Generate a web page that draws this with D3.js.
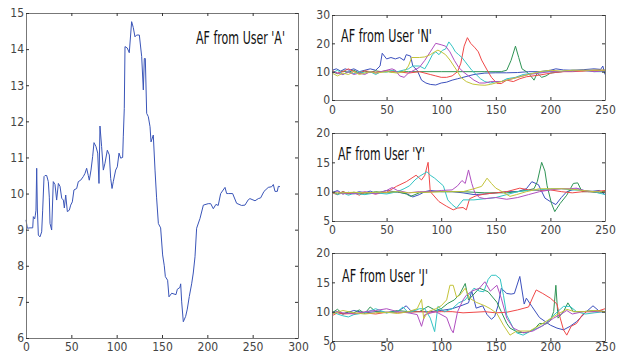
<!DOCTYPE html>
<html>
<head>
<meta charset="utf-8">
<script src="https://cdn.jsdelivr.net/npm/d3@7"></script>
<style>
  body { margin: 0; background: #fff; }
  svg { display: block; }
  .tick text { font-family: 'Liberation Sans Narrow', 'DejaVu Sans Condensed', sans-serif; font-size: 12px; fill: #444; }
  .title { font-family: 'Liberation Sans Narrow', 'DejaVu Sans Condensed', sans-serif; font-size: 17px; fill: #111; }
</style>
</head>
<body>
<svg id="chart" width="617" height="355"></svg>
<script>
// ---- data ----
// user A: [sample, AF]
const userA = [
  [0,9.27],[1.5,9.04],[4.4,9.05],[7.4,9.05],[8.1,9.36],[9.6,9.3],[10.3,9.4],[11,9.54],[11.8,10.7],[12.5,9.6],
  [13.6,8.85],[15.4,8.8],[17.3,8.94],[18.4,9.54],[19.9,10.47],[21,10.5],[22.8,10.5],[24.6,10.33],[25.7,9.9],[26.5,9.17],
  [28.3,8.99],[30.1,10.33],[32,10.25],[33.8,9.82],[35.7,10.28],[37.5,10.2],[39.4,9.87],[41.2,9.82],[42.3,9.6],[43.8,9.96],
  [45.6,9.5],[47.8,9.54],[49.3,9.68],[51.1,9.77],[52.9,10.1],[55.9,10.14],[57.7,10.33],[60.3,10.37],[63.2,10.47],[65.1,10.56],
  [66.9,10.7],[68.7,10.5],[69.8,10.37],[71.7,10.65],[73.5,11.02],[75,11.41],[77.2,11.3],[79.1,11.12],[80.5,10.28],[81.6,11.87],
  [83.4,11.3],[85.3,10.65],[87.1,10.84],[89.7,11.2],[91.9,11.07],[93.4,10.42],[94.9,10.14],[96.3,10.33],[98.9,10.65],[100.7,10.74],
  [102.6,11.12],[104.4,10.98],[106.6,11.0],[107.3,11.57],[108.4,12.36],[109.2,14.07],[111.7,14.03],[113.9,13.9],[116.5,14.76],[118.3,14.6],
  [120.2,14.34],[122,14.39],[125,14.39],[127.6,13.79],[129.4,12.87],[130.5,13.74],[131.6,13.74],[133.1,12.22],[134.9,12.13],[136.8,11.85],
  [137.9,11.43],[140.4,11.62],[142.3,10.65],[144,9.9],[146,9.17],[148.5,9.05],[150.7,8.3],[152.5,8.0],[153.7,7.7],[156.2,7.6],
  [157.7,7.14],[160.7,7.24],[165.4,7.2],[166.9,7.35],[169.8,7.4],[170.6,7.5],[171.7,7.0],[173.5,6.45],[176.1,6.6],[177.9,6.8],
  [180.1,7.15],[182.7,7.5],[184.5,7.8],[186.4,8.25],[188.2,9.04],[191.9,9.31],[195.6,9.68],[201,9.72],[203.7,9.72],[206.6,9.58],
  [209.5,9.7],[212,9.67],[214.7,10.0],[219.5,10.17],[221.3,10.0],[223.1,10.0],[227.9,10.0],[232.3,9.73],[237.8,9.67],[241.5,9.68],
  [245.2,9.83],[247,9.86],[252.6,9.8],[256.2,9.86],[258.8,9.88],[262.5,10.06],[267.2,10.17],[271,10.19],[272.8,10.25],[274.6,10.06],
  [277.2,10.06],[278.3,10.2],[280.1,10.19]
];

const seriesColors = ['#3c50bd', '#2f9455', '#f04848', '#33c4c4', '#b04fc0', '#c4c43a'];

// user N: blue, green, red, cyan, magenta, yellow
const userN = [
  [[0,10.5],[4,11],[8,10.2],[12,11],[16,10.5],[20,11],[25,10],[30,10.5],[35,11],[40,10.5],[44,12],[46,16.5],[50,14.5],[54,15],[58,14.5],[62,15],[66,14],[68,16],[72,15.5],[74,12],[78,10.5],[82,7],[86,6],[90,5.5],[95,5.3],[100,6],[105,6.3],[110,7],[115,7.5],[120,8],[125,8.5],[130,9],[140,9.5],[150,9.6],[160,9.6],[170,9.7],[180,10],[190,10],[200,10.5],[205,11],[212,10.6],[220,10.5],[230,10.7],[240,11],[246,10.8],[248,12],[250,9]],
  [[0,10],[5,9.3],[10,10.2],[15,9.8],[20,10.5],[25,9.5],[30,10.2],[35,9.8],[40,10.3],[45,10],[50,10.2],[55,9.8],[60,10],[70,10],[80,10],[100,10],[120,10],[140,10],[155,10],[160,10.5],[164,14],[168,19],[171,15],[174,11],[178,10],[182,8.5],[185,7],[188,9.5],[192,8],[196,8.5],[200,9.5],[210,10],[220,10.5],[230,10.3],[240,10.5],[250,10.5]],
  [[0,10.5],[5,9.5],[10,10],[15,11],[20,10],[25,9.5],[30,10.3],[35,10],[40,9.8],[50,10.3],[60,10],[70,9.5],[80,10],[90,9],[95,8.5],[100,8],[105,8],[110,8.5],[115,10],[118,13],[121,19],[124,22],[127,20],[131,18.4],[134,17],[137,14.1],[142,10.6],[146,8],[151,5.9],[155,5.8],[160,7],[166,6.5],[172,7.5],[178,8.2],[190,8.8],[202,9.6],[212,10],[220,10],[230,10.2],[240,10.5],[250,10.5]],
  [[0,9.5],[5,10.5],[10,9],[15,10],[20,9.3],[25,10],[30,9.5],[35,10],[40,9],[45,10],[50,9.8],[55,10.5],[60,10],[65,10.5],[70,11],[74,12],[80,12],[85,11],[88,13],[92,16],[95,17],[98,16],[101,17.5],[104,18],[107,20.5],[110,19],[113,17],[116,16],[119,15],[122,13.5],[125,12],[128,10.5],[132,9],[136,7.5],[140,6.5],[145,6],[150,6.5],[155,6.5],[160,7.5],[168,8],[175,9],[185,9.5],[195,10],[205,10],[215,10.2],[230,10.5],[240,10],[250,10]],
  [[0,10],[5,9.5],[10,9],[15,10],[20,9],[25,9.5],[30,9],[35,10],[40,9.5],[45,10],[50,10.5],[55,11],[58,10.5],[62,8.5],[66,8],[70,9.5],[75,10.5],[80,11.5],[85,14],[90,17],[95,20],[100,19.5],[104,19],[108,17],[112,14],[116,11.5],[120,10],[125,8.5],[130,7],[135,6],[140,6],[145,6.5],[150,6.5],[155,6.5],[160,7],[170,8],[180,9],[190,9.5],[200,10],[210,10],[220,10.2],[230,10.5],[240,10],[250,10.3]],
  [[0,9.5],[5,8.5],[10,9.5],[15,9],[20,10],[25,9],[30,9.5],[35,10],[40,9.5],[50,10],[60,9.5],[66,10],[70,12],[73,15],[80,15],[85,15.2],[90,16],[94,17],[97,17.6],[100,17],[104,16],[108,14.1],[114,10.6],[118,8],[123,6.5],[129,5.6],[135,5.3],[140,5.2],[145,5.5],[150,6],[160,7],[170,8],[180,9],[190,10],[200,10.5],[210,10.2],[220,10.5],[230,10.5],[240,10.5],[250,10.5]]
];

// user Y
const userY = [
  [[0,9.8],[5,10.2],[10,9.6],[15,9.9],[20,9.7],[25,10],[30,9.8],[35,10.1],[40,9.7],[50,10.2],[60,9.9],[68,9.7],[74,9.1],[80,9.5],[85,10],[90,10.2],[100,10],[110,10],[120,9.8],[130,9.5],[140,9.6],[150,9.8],[160,10],[170,10],[178,10.5],[183,11.7],[189,11.2],[195,8.9],[200,8.3],[205,7.8],[210,9],[215,10],[220,10.3],[225,10.5],[235,10],[245,10.2],[250,9.5]],
  [[0,9.8],[5,9.6],[10,10],[15,9.7],[20,9.9],[30,9.6],[40,10],[50,9.8],[60,10],[68,9.6],[72,9.2],[76,9.5],[80,9.8],[90,10],[100,10],[110,10],[120,10],[140,9.8],[160,9.8],[170,10],[180,10.3],[185,10.5],[188,11.7],[192,15],[195,13.5],[197,11],[201,8],[204,6.6],[209,8],[215,9.4],[221,11.4],[225,11.5],[229,10],[235,10],[245,9.8],[250,10]],
  [[0,9.8],[5,9.5],[10,10],[15,9.6],[20,9.8],[25,9.4],[30,9.9],[40,9.6],[50,9.9],[59,10.9],[68,11.7],[77,12.8],[82,12],[85,12.8],[88,15],[90,10],[98,8.3],[105,7.5],[111,6.9],[115,7.2],[120,7.3],[123,6.9],[126,8.8],[132,9.3],[140,9.6],[150,9.8],[160,10],[172,10.6],[180,10.3],[190,10.2],[200,10.3],[210,10],[220,9.8],[230,10],[240,10],[250,10.2]],
  [[0,10],[5,9.5],[10,9.8],[15,9.4],[20,9.7],[30,9.5],[40,9.8],[50,9.6],[60,10],[66,10.5],[71,11],[76,12],[80,12.6],[87,13.4],[90,12.8],[94,12.3],[102,11],[106,8.6],[110,7.8],[114,7.2],[120,8.6],[130,8.6],[140,8.8],[150,9],[160,9.5],[170,10],[180,10.2],[190,10.3],[200,10.5],[210,10.5],[220,10.3],[230,10.2],[240,10],[250,9.5]],
  [[0,9.7],[5,10],[10,9.6],[15,9.8],[20,9.6],[30,10],[40,9.6],[50,10.2],[55,10.7],[60,10.2],[70,9.8],[80,10],[90,10],[100,10.2],[110,10.3],[115,11],[119,11.9],[122,11.4],[125,13.7],[128,11.4],[131,9.7],[135,9],[140,8.8],[150,9],[160,8.7],[170,9],[180,9.5],[190,10],[200,10.3],[210,10.5],[218,10.5],[224,10.6],[230,10.2],[240,10],[250,10]],
  [[0,9.8],[10,9.8],[20,9.9],[30,9.8],[40,9.9],[50,9.9],[60,10],[70,9.8],[80,9.9],[90,9.9],[100,10],[110,10],[120,10],[130,10.5],[137,10.9],[142,12.3],[146,11.4],[150,10.6],[154,10.2],[163,9.2],[169,9.5],[178,10],[190,10.5],[200,10.5],[210,10.5],[220,10.4],[230,10.2],[240,10],[250,10]]
];

// user J
const userJ = [
  [[0,9.8],[5,10],[10,9.6],[15,9.9],[20,10.2],[30,9.8],[40,10],[50,9.9],[60,10],[64,10.5],[68,11],[72,10.2],[80,10],[90,10],[100,10.2],[110,10.5],[118,11],[125,11.5],[128,13.5],[132,10.6],[138,11],[142,9.5],[146,8.7],[149,9.2],[152,11],[155,14],[160,13.1],[164,13],[167,13.1],[172,16],[176,11.3],[178,12.3],[183,10.9],[190,9],[200,7.7],[206,7.2],[212,6.9],[218,7.5],[224,8.3],[233,10],[239,11],[244,10.2],[250,10]],
  [[0,9.8],[5,10.4],[10,9.6],[15,10],[20,9.8],[25,10.3],[30,9.7],[35,10.8],[40,10],[50,9.8],[60,10.2],[70,10],[80,10],[88,10.9],[95,10.2],[100,10.5],[106,11.4],[112,12],[117,13],[122,14.8],[125,12],[130,13],[135,14],[143,13.4],[151,11.6],[155,10],[160,8],[163,7.2],[170,6.5],[178,6.4],[185,7],[190,8],[196,7.9],[200,8.5],[203,10],[205,14.5],[207,8.9],[212,10],[216,11.5],[221,10],[230,10],[240,10.2],[250,10]],
  [[0,9.3],[5,9.8],[10,9.6],[20,9.7],[30,9.8],[40,9.6],[50,9.9],[60,9.8],[70,9.9],[80,10],[90,9.9],[100,10],[110,10],[120,9.8],[130,9.9],[140,10],[150,9.8],[160,9.9],[170,10.3],[180,10.8],[184,12.5],[187,13.7],[193,13.1],[200,12.3],[206,11.3],[209,8.9],[212,6.9],[215,6],[219,7.5],[224,8],[229,9.4],[233,10],[240,10],[245,10.2],[250,10.5]],
  [[0,10],[5,9.6],[10,9.3],[15,9.1],[20,9.5],[30,9.8],[40,10.5],[50,9.8],[60,10],[65,10.8],[70,9.8],[80,10.5],[85,10.5],[90,8.9],[94,6.6],[97,10.9],[103,10],[110,10.5],[116,11.5],[122,12],[130,14],[135,13.5],[139,13.4],[143,15.5],[146,16.2],[150,16.2],[154,15.6],[157,12.8],[160,9.4],[166,7.2],[169,6.4],[175,6],[181,6.6],[188,7.2],[194,7.7],[203,9.4],[212,10.9],[218,10.9],[224,10],[232,9.6],[240,9.8],[250,10]],
  [[0,9.7],[5,10],[10,9.8],[20,9.6],[30,10],[40,10.2],[50,10.5],[60,10],[70,9.8],[78,9.5],[82,7.5],[85,9.5],[95,10],[105,9],[109,7],[111,6.4],[115,10],[120,12],[123,12.8],[128,13.5],[135,14],[140,15.1],[145,13.5],[151,14.5],[155,12.3],[160,8.9],[166,7.2],[175,6.4],[184,6.7],[192,7.5],[203,8.9],[210,9.6],[215,10.2],[220,9.6],[230,10],[240,10],[250,10]],
  [[0,9.6],[5,9.9],[10,10.2],[20,9.8],[30,9.6],[40,9.8],[50,9.9],[60,9.7],[70,10],[78,10.5],[82,12.1],[84,8.8],[88,10],[95,10.5],[100,11],[105,12],[108,14.5],[111,14.5],[114,12.5],[117,12.8],[122,14],[126,12.3],[132,11.6],[140,11],[145,10.5],[151,9.7],[157,7.7],[163,6],[169,6.7],[181,6.7],[193,8],[206,9.5],[215,10.4],[222,10],[230,10],[240,10.2],[250,10]]
];

const titles = ["AF from User 'A'", "AF from User 'N'", "AF from User 'Y'", "AF from User 'J'"];

// ---- drawing ----
const svg = d3.select('#chart');

function panel(box, xDomain, yDomain, xTicks, yTicks, lines, colors, title, titlePos) {
  const x = d3.scaleLinear().domain(xDomain).range([box.x0, box.x1]);
  const y = d3.scaleLinear().domain(yDomain).range([box.y1, box.y0]);
  const g = svg.append('g');

  const line = d3.line().x(d => x(d[0])).y(d => y(d[1]));
  lines.forEach((pts, i) => {
    g.append('path').datum(pts)
      .attr('fill', 'none')
      .attr('stroke', colors[i])
      .attr('stroke-width', 1)
      .attr('d', line);
  });

  const axisStyle = sel => {
    sel.select('.domain').attr('stroke', '#777');
    sel.selectAll('.tick line').attr('stroke', '#333');
  };
  g.append('g').attr('transform', `translate(0,${box.y1})`)
    .call(d3.axisBottom(x).tickValues(xTicks).tickSize(-3).tickSizeOuter(0).tickPadding(box.pad))
    .call(axisStyle);
  g.append('g').attr('transform', `translate(0,${box.y0})`)
    .call(d3.axisTop(x).tickValues(xTicks).tickSize(-3).tickSizeOuter(0).tickFormat(''))
    .call(axisStyle);
  g.append('g').attr('transform', `translate(${box.x0},0)`)
    .call(d3.axisLeft(y).tickValues(yTicks).tickSize(-3).tickSizeOuter(0).tickPadding(2))
    .call(axisStyle);
  g.append('g').attr('transform', `translate(${box.x1},0)`)
    .call(d3.axisRight(y).tickValues(yTicks).tickSize(-3).tickSizeOuter(0).tickFormat(''))
    .call(axisStyle);

  // the reference text is tall and narrow: squeeze it horizontally to its measured width
  const t = g.append('text').attr('class', 'title').text(title);
  const natural = t.node().getComputedTextLength();
  t.attr('transform', `translate(${titlePos[0]},${titlePos[1]}) scale(${titlePos[2] / natural},1)`);
}

panel({x0: 26, x1: 298, y0: 13, y1: 338, pad: 4}, [0, 300], [6, 15],
  d3.range(0, 301, 50), d3.range(6, 16, 1), [userA], ['#3a55b8'], titles[0], [196, 44, 89]);

panel({x0: 332, x1: 605, y0: 15, y1: 100, pad: 5}, [0, 250], [0, 30],
  d3.range(0, 251, 50), [0, 10, 20, 30], userN, seriesColors, titles[1], [341, 42, 91]);

panel({x0: 332, x1: 605, y0: 133, y1: 221, pad: 4}, [0, 250], [5, 20],
  d3.range(0, 251, 50), [5, 10, 15, 20], userY, seriesColors, titles[2], [338, 160, 87]);

panel({x0: 332, x1: 605, y0: 253, y1: 341, pad: 1}, [0, 250], [5, 20],
  d3.range(0, 251, 50), [5, 10, 15, 20], userJ, seriesColors, titles[3], [342, 282, 86]);
</script>
</body>
</html>
